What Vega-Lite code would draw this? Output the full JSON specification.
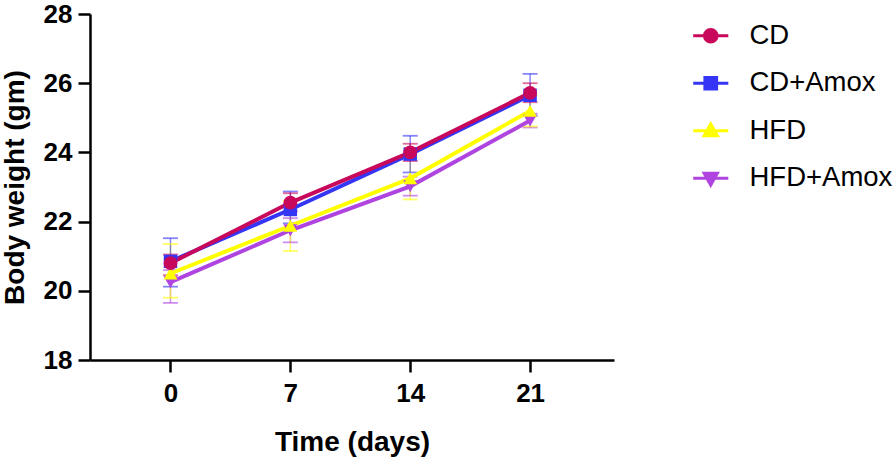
{
  "$schema": "https://vega.github.io/schema/vega-lite/v6.json",
  "width": 524,
  "height": 346,
  "autosize": "none",
  "padding": {"left": 90, "top": 14, "right": 282, "bottom": 107},
  "background": "white",
  "config": {
    "view": {"stroke": null},
    "axis": {
      "domainColor": "black", "domainWidth": 2.5, "tickColor": "black", "tickWidth": 2.5, "tickSize": 12,
      "labelFont": "Liberation Sans", "labelFontWeight": "bold", "labelFontSize": 26, "labelColor": "black",
      "titleFont": "Liberation Sans", "titleFontWeight": "bold", "titleFontSize": 28, "titleColor": "black",
      "grid": false
    }
  },
  "data": {
    "values": [
      {"group": "HFD+Amox", "day": 0, "mean": 20.25, "lo": 19.65, "hi": 20.6},
      {"group": "HFD+Amox", "day": 7, "mean": 21.75, "lo": 21.4, "hi": 22.1},
      {"group": "HFD+Amox", "day": 14, "mean": 23.02, "lo": 22.75, "hi": 23.3},
      {"group": "HFD+Amox", "day": 21, "mean": 24.92, "lo": 24.72, "hi": 25.12},
      {"group": "HFD", "day": 0, "mean": 20.5, "lo": 19.8, "hi": 21.35},
      {"group": "HFD", "day": 7, "mean": 21.88, "lo": 21.15, "hi": 22.6},
      {"group": "HFD", "day": 14, "mean": 23.25, "lo": 22.64, "hi": 23.85},
      {"group": "HFD", "day": 21, "mean": 25.2, "lo": 24.75, "hi": 25.65},
      {"group": "CD+Amox", "day": 0, "mean": 20.85, "lo": 20.12, "hi": 21.52},
      {"group": "CD+Amox", "day": 7, "mean": 22.35, "lo": 21.95, "hi": 22.87},
      {"group": "CD+Amox", "day": 14, "mean": 23.95, "lo": 23.42, "hi": 24.48},
      {"group": "CD+Amox", "day": 21, "mean": 25.65, "lo": 25.05, "hi": 26.27},
      {"group": "CD", "day": 0, "mean": 20.8, "lo": 20.45, "hi": 21.05},
      {"group": "CD", "day": 7, "mean": 22.55, "lo": 22.3, "hi": 22.82},
      {"group": "CD", "day": 14, "mean": 24.0, "lo": 23.75, "hi": 24.25},
      {"group": "CD", "day": 21, "mean": 25.72, "lo": 25.45, "hi": 26.0}
    ]
  },
  "encoding": {
    "x": {"field": "day", "type": "quantitative",
      "scale": {"domain": [-4.7, 25.9], "nice": false, "zero": false},
      "axis": {"values": [0, 7, 14, 21], "title": "Time (days)", "labelPadding": 8, "titlePadding": 22}}
  },
  "layer": [
    {
      "mark": {"type": "rule", "strokeWidth": 1.5, "opacity": 0.6},
      "encoding": {
        "y": {"field": "lo", "type": "quantitative"},
        "y2": {"field": "hi"},
        "color": {"field": "group", "type": "nominal",
          "scale": {"domain": ["CD", "CD+Amox", "HFD", "HFD+Amox"], "range": ["#C8085A", "#3535F5", "#FFFF00", "#B044E0"]}}
      }
    },
    {
      "mark": {"type": "tick", "orient": "horizontal", "size": 15, "thickness": 1.8, "opacity": 0.6},
      "encoding": {
        "y": {"field": "lo", "type": "quantitative"},
        "color": {"field": "group", "type": "nominal"}
      }
    },
    {
      "mark": {"type": "tick", "orient": "horizontal", "size": 15, "thickness": 1.8, "opacity": 0.6},
      "encoding": {
        "y": {"field": "hi", "type": "quantitative"},
        "color": {"field": "group", "type": "nominal"}
      }
    },
    {
      "mark": {"type": "line", "strokeWidth": 4},
      "encoding": {
        "y": {"field": "mean", "type": "quantitative",
          "scale": {"domain": [18, 28], "nice": false, "zero": false},
          "axis": {"values": [18, 20, 22, 24, 26, 28], "title": "Body weight (gm)", "labelPadding": 6, "titlePadding": 14}},
        "color": {"field": "group", "type": "nominal"},
        "detail": {"field": "group"},
        "order": {"field": "day", "type": "quantitative"}
      }
    },
    {
      "transform": [{"filter": "datum.group === 'HFD+Amox'"}],
      "mark": {"type": "point", "filled": true, "opacity": 1, "size": 190, "shape": "triangle-down"},
      "encoding": {"y": {"field": "mean", "type": "quantitative"}, "color": {"field": "group", "type": "nominal"}}
    },
    {
      "transform": [{"filter": "datum.group === 'HFD'"}],
      "mark": {"type": "point", "filled": true, "opacity": 1, "size": 190, "shape": "triangle-up"},
      "encoding": {"y": {"field": "mean", "type": "quantitative"}, "color": {"field": "group", "type": "nominal"}}
    },
    {
      "transform": [{"filter": "datum.group === 'CD+Amox'"}],
      "mark": {"type": "point", "filled": true, "opacity": 1, "size": 180, "shape": "square"},
      "encoding": {"y": {"field": "mean", "type": "quantitative"}, "color": {"field": "group", "type": "nominal"}}
    },
    {
      "transform": [{"filter": "datum.group === 'CD'"}],
      "mark": {"type": "point", "filled": true, "opacity": 1, "size": 190, "shape": "circle"},
      "encoding": {"y": {"field": "mean", "type": "quantitative"}, "color": {"field": "group", "type": "nominal"}}
    },
    {
      "transform": [{"filter": "false"}],
      "mark": {"type": "point", "filled": true, "opacity": 1},
      "encoding": {
        "y": {"field": "mean", "type": "quantitative"},
        "color": {"field": "group", "type": "nominal", "title": null,
          "legend": {
            "orient": "none", "legendX": 607, "legendY": 8, "title": null,
            "labelFont": "Liberation Sans", "labelFontSize": 27.5, "labelColor": "black",
            "labelOffset": 25, "rowPadding": 18.5, "symbolSize": 380, "symbolStrokeWidth": 3, "symbolOpacity": 1,
            "encode": {"symbols": {"update": {
              "stroke": {"signal": "scale('color', datum.value)"},
              "strokeWidth": {"value": 3}
            }}}
          }},
        "shape": {"field": "group", "type": "nominal", "title": null,
          "scale": {"domain": ["CD", "CD+Amox", "HFD", "HFD+Amox"], "range": [
            "M-1.8,0H1.8M0.65,0A0.65,0.65,0,1,1,-0.65,0A0.65,0.65,0,1,1,0.65,0Z",
            "M-1.8,0H1.8M-0.6,-0.6H0.6V0.6H-0.6Z",
            "M-1.8,0H1.8M0,-0.7L0.68,0.52H-0.68Z",
            "M-1.8,0H1.8M0,0.7L0.68,-0.52H-0.68Z"
          ]}}
      }
    }
  ]
}
